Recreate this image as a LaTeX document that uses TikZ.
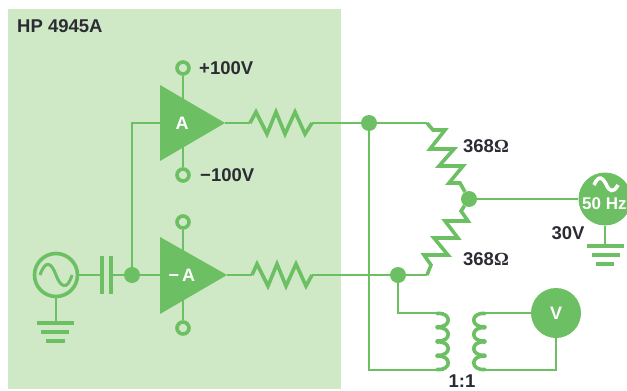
\documentclass[tikz,border=0pt]{standalone}
\usepackage{fontspec}
\setmainfont{Liberation Sans}
\newfontfamily\serifbold{Liberation Serif}
\usepackage{tikz}
\usetikzlibrary{calc}
\definecolor{panelgreen}{HTML}{CFE8C5}
\definecolor{wiregreen}{HTML}{6CBF62}
\definecolor{inkdark}{HTML}{2B2C33}
\tikzset{
  wire/.style={wiregreen,line width=2},
  res/.style={wiregreen,line width=3.6,line join=miter},
  coil/.style={wiregreen,line width=3.6,line cap=round},
  bar/.style={wiregreen,line width=3.6},
  plate/.style={wiregreen,line width=4.4},
  dot/.style={circle,fill=wiregreen,inner sep=0,minimum size=16},
  term/.style={circle,draw=wiregreen,line width=3.6,fill=panelgreen,inner sep=0,minimum size=12},
  meter/.style={circle,fill=wiregreen,inner sep=0,minimum size=50,text=white,font=\fontsize{18}{20}\selectfont\bfseries},
  lbl/.style={text=inkdark,inner sep=0,font=\fontsize{18.5}{20}\selectfont\bfseries},
  amplbl/.style={text=white,inner sep=0,font=\fontsize{18}{20}\selectfont\bfseries}
}
\begin{document}
\begin{tikzpicture}[x=1pt,y=-1pt]
\useasboundingbox (0,0) rectangle (627,391);

\fill [panelgreen] (8,9) rectangle (341,389);
\node [lbl,anchor=west] (title) at (17,26) {HP 4945A};

% amplifiers
\coordinate (ampaup) at (160,85);
\coordinate (ampadn) at (160,161);
\coordinate (ampaout) at (225,123);
\coordinate (ampain) at (160,123);
\coordinate (ampbup) at (160,237);
\coordinate (ampbdn) at (160,314);
\coordinate (ampbout) at (227,275);
\coordinate (ampbin) at (160,275);

\node [term] (plus) at (183,68) {};
\node [term] (minus) at (183,175) {};
\node [term] (upper) at (183,222) {};
\node [term] (lower) at (183,328) {};
\draw [wire] (plus) -- (183,123);
\draw [wire] (minus) -- (183,123);
\draw [wire] (upper) -- (183,275);
\draw [wire] (lower) -- (183,275);

\fill [wiregreen] (ampaup) -- (ampaout) -- (ampadn) -- cycle;
\fill [wiregreen] (ampbup) -- (ampbout) -- (ampbdn) -- cycle;
\node [amplbl] (ampa) at (182,123) {A};
\node [amplbl] (ampb) at (182,275) {−\,A};
\node [lbl,anchor=west] (plustxt) at (199,68) {+100V};
\node [lbl,anchor=west] (minustxt) at (200,175) {−100V};

% dots
\node [dot] (split) at (132,275) {};
\node [dot] (nodea) at (369,123) {};
\node [dot] (nodeb) at (398,275) {};
\node [dot] (mid) at (469,199) {};

% source and coupling capacitor
\node [circle,draw=wiregreen,line width=3.6,inner sep=0,minimum size=43] (src) at (56,275) {};
\draw [wiregreen,line width=3] (40,275) .. controls (46,258) and (52,264) .. (56,275) .. controls (60,286) and (67,292) .. (72,275);
\coordinate (capl) at (102,275);
\coordinate (capr) at (111,275);
\draw [wire] (src) -- (capl);
\draw [wire] (capr) -- (split);
\draw [plate] (102,256) -- (102,294);
\draw [plate] (111,256) -- (111,294);
\draw [wire] (split) -- (ampbin);
\draw [wire] (split) |- (ampain);

% ground bars
\coordinate (gnda) at (56,323);
\draw [wire] (src) -- (gnda);
\draw [bar] (37,323) -- (74,323);
\draw [bar] (41,332) -- (69,332);
\draw [bar] (46,341) -- (65,341);

% series resistors
\coordinate (ra) at (250,123);
\coordinate (rb) at (312,123);
\coordinate (rc) at (252,275);
\coordinate (rd) at (312,275);
\draw [wire] (ampaout) -- (ra);
\draw [wire] (rb) -- (nodea);
\draw [wire] (ampbout) -- (rc);
\draw [wire] (rd) -- (nodeb);
\draw [res] (ra) -- ++(6,-11) -- ++(11,22) -- ++(9,-22) -- ++(9,22) -- ++(10,-22) -- ++(10,22) -- (rb);
\draw [res] (rc) -- ++(5,-11) -- ++(11,22) -- ++(9,-22) -- ++(9,22) -- ++(10,-22) -- ++(10,22) -- (rd);

% bridge resistors
\coordinate (ua) at (427,123);
\coordinate (la) at (427,275);
\draw [wire] (nodea) -- (ua);
\draw [wire] (nodeb) -- (la);
\draw [res] (ua) -- ++(6,7) -- ++(12,0) -- ++(-15,19) -- ++(24,0) -- ++(-15,17) -- ++(24,0) -- ++(-14,17) -- ++(11,0) -- (mid);
\draw [res] (mid) -- ++(-8,12) -- ++(7,10) -- ++(-23,0) -- ++(13,17) -- ++(-24,0) -- ++(14,17) -- ++(-24,0) -- ++(7,10) -- (la);
\node [lbl] (rtop) at (486,146) {368{\serifbold\bfseries Ω}};
\node [lbl] (rbot) at (486,259) {368{\serifbold\bfseries Ω}};

% line source
\node [meter,minimum size=53] (line) at (605,199) {};
\node [amplbl,anchor=west,font=\fontsize{17}{20}\selectfont\bfseries] (hz) at (582,204) {50 Hz};
\draw [white,line width=3.6] (594,185) .. controls (599,174) and (603,178) .. (606,184) .. controls (609,191) and (613,194) .. (618,185);
\draw [wire] (mid) -- (line);
\coordinate (gndb) at (605,246);
\draw [wire] (line) -- (gndb);
\draw [bar] (587,246) -- (624,246);
\draw [bar] (592,255) -- (620,255);
\draw [bar] (596,264) -- (614,264);
\node [lbl] (volts) at (568,233) {30V};

% transformer and meter
\node [meter] (vm) at (556,313) {V};
\coordinate (cla) at (444,313);
\coordinate (clb) at (444,370);
\coordinate (cra) at (479,313);
\coordinate (crb) at (479,370);
\draw [wire] (nodeb) |- (cla);
\draw [wire] (nodea) |- (clb);
\draw [wire] (cra) -- (vm);
\draw [wire] (vm) |- (crb);
\foreach \ytop in {313,327.25,341.5,355.75}{
  \draw [coil] (437,\ytop+.5) .. controls (452,\ytop-1) and (452,\ytop+15) .. (437,\ytop+13.75);
  \draw [coil] (485,\ytop+.5) .. controls (470,\ytop-1) and (470,\ytop+15) .. (485,\ytop+13.75);
}
\node [lbl] (ratio) at (462,381) {1:1};

\end{tikzpicture}
\end{document}
